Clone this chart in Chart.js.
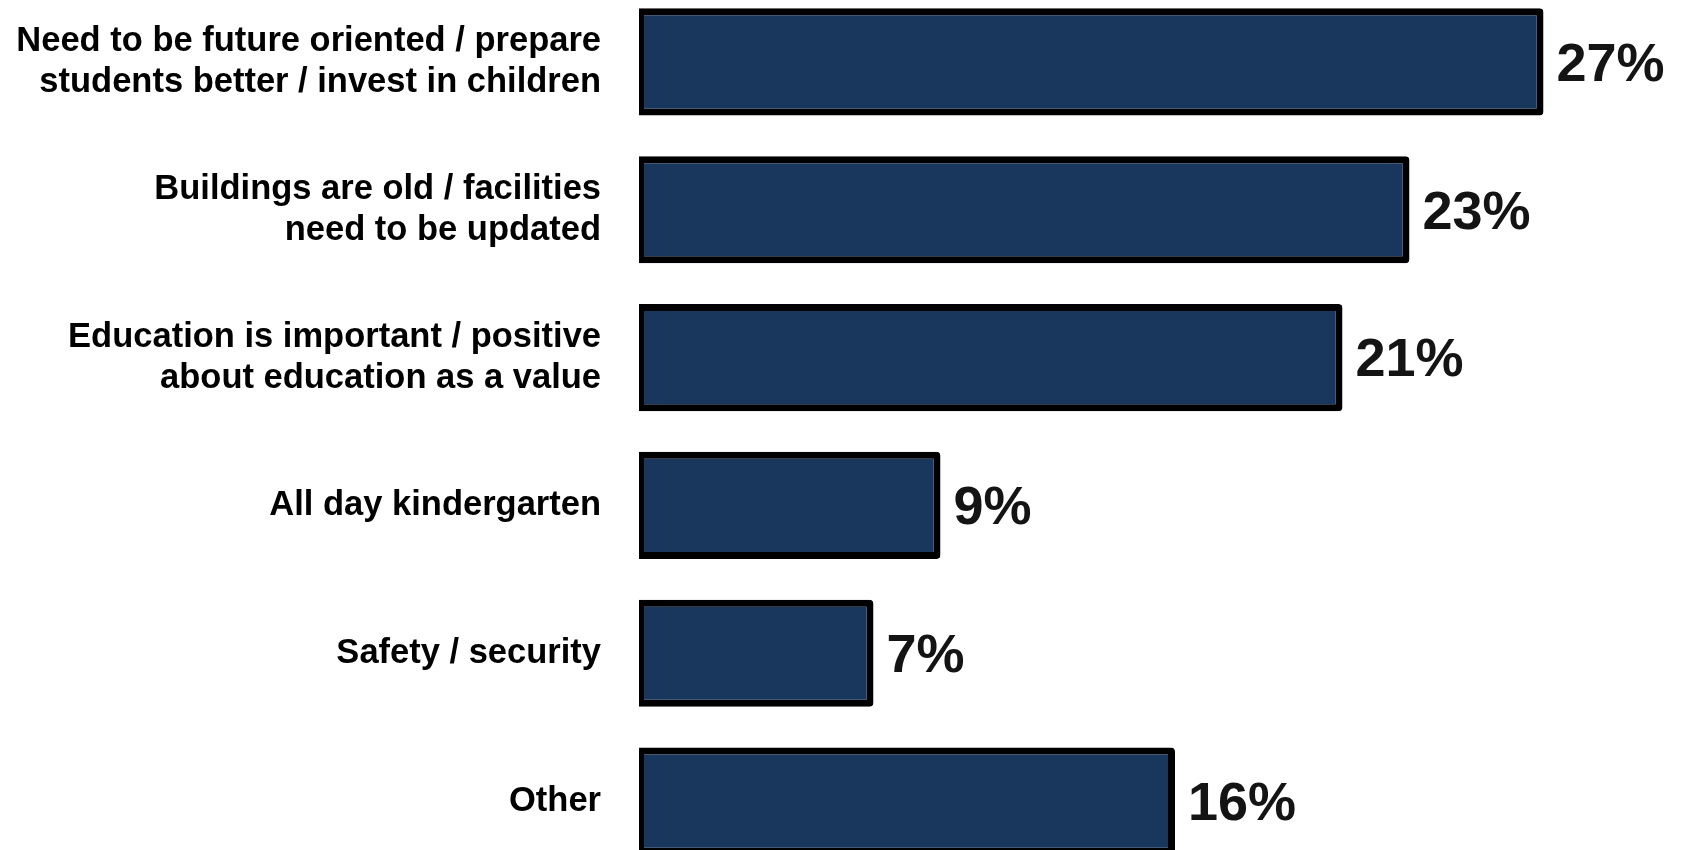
<!DOCTYPE html>
<html>
<head>
<meta charset="utf-8">
<script src="https://cdn.jsdelivr.net/npm/chart.js@4/dist/chart.umd.min.js"></script>
<style>
  html, body { margin: 0; padding: 0; background: #ffffff; overflow: hidden; width: 1682px; height: 850px; }
  #wrap { position: absolute; left: 0; top: -12px; width: 1682px; height: 887px; }
</style>
</head>
<body>
<div id="wrap"><canvas id="c"></canvas></div>
<script>
// ---- data ----
const categories = [
  ["Need to be future oriented / prepare", "students better / invest in children"],
  ["Buildings are old / facilities", "need to be updated"],
  ["Education is important / positive", "about education as a value"],
  "All day kindergarten",
  "Safety / security",
  "Other"
];
const values = [27, 23, 21, 9, 7, 16];
const valueLabels = ["27%", "23%", "21%", "9%", "7%", "16%"];
const axisMax = 30;

const barFill = "#19365D";
const barStroke = "#000000";

const valueLabelPlugin = {
  id: "valueLabels",
  afterDatasetsDraw(chart) {
    const ctx = chart.ctx;
    const meta = chart.getDatasetMeta(0);
    ctx.save();
    ctx.font = "bold 54px 'Liberation Sans', Arial, sans-serif";
    ctx.fillStyle = "#141414";
    ctx.textAlign = "left";
    ctx.textBaseline = "middle";
    meta.data.forEach((bar, i) => {
      ctx.fillText(valueLabels[i], bar.x + 13, bar.y + 4);
    });
    ctx.restore();
  }
};

new Chart(document.getElementById("c"), {
  type: "bar",
  data: {
    labels: categories,
    datasets: [{
      data: values,
      backgroundColor: barFill,
      borderColor: barStroke,
      borderWidth: { top: 7, right: 7, bottom: 7, left: 5 },
      borderSkipped: false,
      borderRadius: { topLeft: 0, bottomLeft: 0, topRight: 4, bottomRight: 4 },
      categoryPercentage: 1.0,
      barPercentage: 0.725
    }]
  },
  options: {
    indexAxis: "y",
    responsive: true,
    maintainAspectRatio: false,
    animation: false,
    layout: { padding: { left: 0, right: 38, top: 0, bottom: 0 } },
    plugins: { legend: { display: false }, tooltip: { enabled: false } },
    scales: {
      x: { display: false, min: 0, max: axisMax },
      y: {
        grid: { display: false, drawTicks: false },
        border: { display: false },
        ticks: {
          color: "#000000",
          padding: 38,
          font: { family: "'Liberation Sans', Arial, sans-serif", size: 34.5, weight: "bold", lineHeight: 1.19 }
        },
        afterFit(scale) {
          scale.width = 639;
          scale.paddingTop = 0;
          scale.paddingBottom = 0;
          scale.paddingLeft = 0;
          scale.paddingRight = 0;
        }
      }
    }
  },
  plugins: [valueLabelPlugin]
});
</script>
</body>
</html>
